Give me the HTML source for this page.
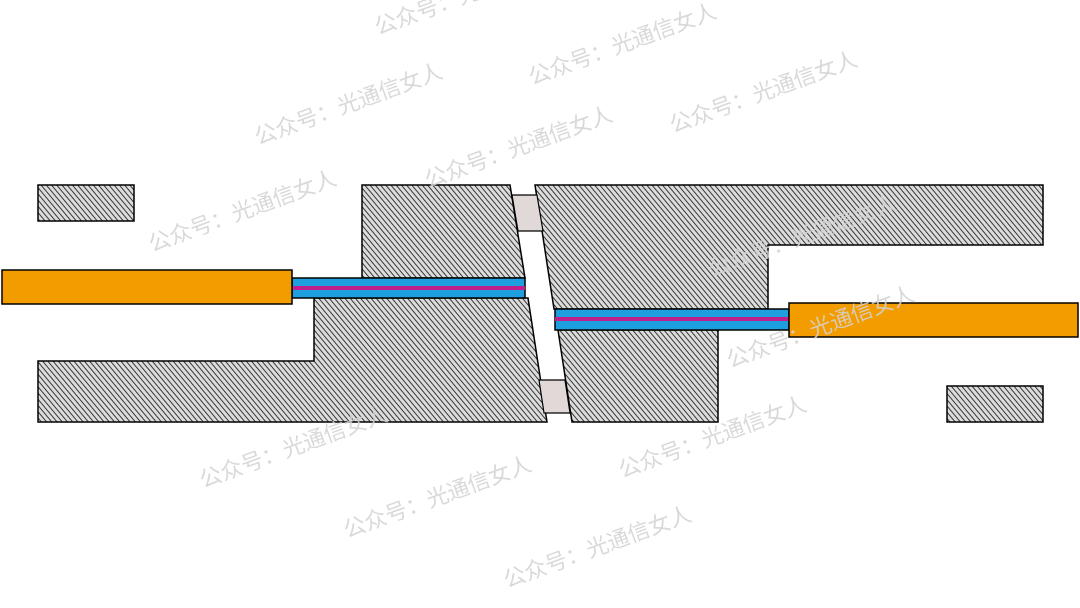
<!DOCTYPE html>
<html><head><meta charset="utf-8"><style>
html,body{margin:0;padding:0;background:#fff;width:1080px;height:608px;overflow:hidden}
svg{display:block}
.wm{font-family:"Liberation Sans","Noto Sans CJK SC",sans-serif;font-size:22px;fill:#d2d2d2;fill-opacity:0.85}
</style></head><body>
<svg width="1080" height="608" viewBox="0 0 1080 608" xmlns="http://www.w3.org/2000/svg">
<defs>
<pattern id="h" patternUnits="userSpaceOnUse" width="4" height="4" patternTransform="rotate(-40)">
<rect width="4" height="4" fill="#dcdcdc"/>
<line x1="0" y1="0" x2="0" y2="4" stroke="#2e2e2e" stroke-width="1.9"/>
</pattern>
</defs>
<g stroke="#000" stroke-width="1.5" fill="url(#h)">
<rect x="38" y="185" width="96" height="36"/>
<rect x="947" y="386" width="96" height="36"/>
<polygon points="362,185 510,185 525,278 362,278"/>
<polygon points="314,298 528,298 547,422 38,422 38,361 314,361"/>
<polygon points="535,185 1043,185 1043,245 768,245 768,309 554,309"/>
<polygon points="558,330 718,330 718,422 572,422"/>
</g>
<g stroke="#000" stroke-width="1.2" fill="#e0d9d7">
<polygon points="512,195 537,195 543,231 518,231"/>
<polygon points="539,380 565,380 570,413 544,413"/>
</g>
<g stroke="#000" stroke-width="1.5">
<rect x="292" y="278" width="233" height="20" fill="#1e9fe0"/>
<rect x="555" y="309" width="234" height="21" fill="#1e9fe0"/>
</g>
<rect x="292" y="286" width="233" height="4" fill="#c0208a"/>
<rect x="555" y="317" width="234" height="4" fill="#c0208a"/>
<g stroke="#000" stroke-width="1.5" fill="#f39c00">
<rect x="2" y="270" width="290" height="34"/>
<rect x="789" y="303" width="289" height="34"/>
</g>
<g class="wm">
<text transform="translate(378,35) rotate(-20)">公众号：光通信女人</text>
<text transform="translate(532,85) rotate(-20)">公众号：光通信女人</text>
<text transform="translate(258,145) rotate(-20)">公众号：光通信女人</text>
<text transform="translate(673,133) rotate(-20)">公众号：光通信女人</text>
<text transform="translate(428,188) rotate(-20)">公众号：光通信女人</text>
<text transform="translate(152,252) rotate(-20)">公众号：光通信女人</text>
<text transform="translate(712,277) rotate(-20)">公众号：光通信女人</text>
<text transform="translate(730,368) rotate(-20)">公众号：光通信女人</text>
<text transform="translate(203,488) rotate(-20)">公众号：光通信女人</text>
<text transform="translate(622,478) rotate(-20)">公众号：光通信女人</text>
<text transform="translate(347,538) rotate(-20)">公众号：光通信女人</text>
<text transform="translate(507,588) rotate(-20)">公众号：光通信女人</text>
</g>
</svg>
</body></html>
